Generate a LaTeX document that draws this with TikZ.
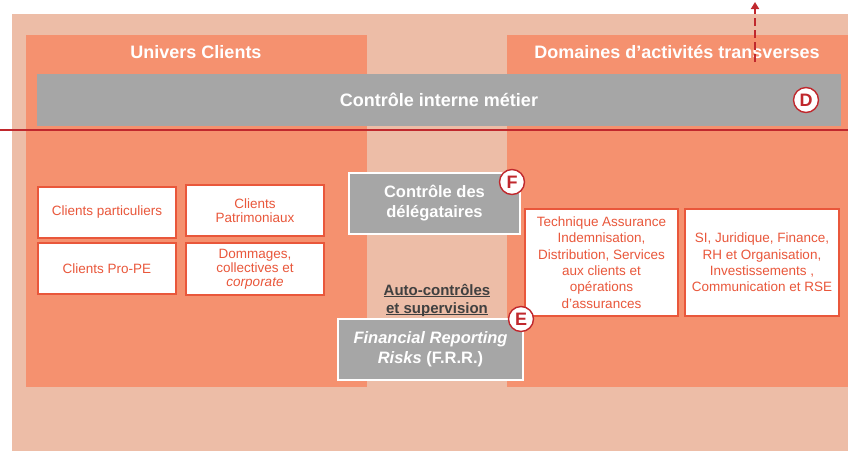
\documentclass[tikz,border=0pt]{standalone}
\usepackage{fontspec}
\setmainfont{Liberation Sans}
\usetikzlibrary{arrows.meta}
\definecolor{peach}{HTML}{EDBDA7}
\definecolor{orng}{HTML}{F5916F}
\definecolor{grayb}{HTML}{A6A6A6}
\definecolor{redc}{HTML}{C0282D}
\definecolor{txtr}{HTML}{E9573B}
\definecolor{dgray}{HTML}{404040}
\newcommand\myul[1]{\setbox0\hbox{#1}\rlap{\rule[-2pt]{\wd0}{1.1pt}}\box0}
\begin{document}
\begin{tikzpicture}[x=1pt,y=-1pt,
  wbox/.style={draw=txtr, line width=1.2pt, fill=white, text=txtr, align=center, inner sep=0pt, font=\fontsize{13.5}{14}\selectfont},
  tbox/.style={wbox, font=\fontsize{13.5}{16.4}\selectfont},
  gbox/.style={draw=white, line width=2pt, fill=grayb, text=white, align=center, inner sep=0pt, font=\bfseries\fontsize{16.5}{20}\selectfont},
  badge/.style={circle, draw=redc, line width=1.4pt, fill=white, text=redc, minimum size=25pt, inner sep=0pt, font=\bfseries\fontsize{18}{18}\selectfont},
  header/.style={text=white, font=\bfseries\fontsize{18}{18}\selectfont}
]
\useasboundingbox (0,0) rectangle (848,451);
\fill[peach] (12,14) rectangle (848,451);
\fill[orng] (26,35) rectangle (367,387);
\fill[orng] (507,35) rectangle (848,387);
\node[header] (huc) at (196,52) {Univers Clients};
\node[header] (hdt) at (677,52) {Domaines d’activités transverses};
\node[fill=grayb, minimum width=804pt, minimum height=52pt, inner sep=0pt, text=white, font=\bfseries\fontsize{18}{18}\selectfont] (cim) at (439,100) {Contrôle interne métier};
\node[badge] (bd) at (806,100) {D};
\coordinate (l0) at (0,130);
\coordinate (l1) at (848,130);
\draw[redc, line width=1.6pt] (l0) -- (l1);
\coordinate (a0) at (755,62);
\coordinate (a1) at (755,2);
\draw[redc, line width=2.2pt, dash pattern=on 8pt off 4pt, -{Triangle[length=7pt,width=8pt]}] (a0) -- (a1);
\node[wbox, minimum width=138pt, minimum height=51pt] (cp) at (107,212.5) {Clients particuliers};
\node[wbox, minimum width=138pt, minimum height=51pt] (pat) at (255,210.5) {Clients\\Patrimoniaux};
\node[wbox, minimum width=138pt, minimum height=51pt] (pro) at (107,268.5) {Clients Pro-PE};
\node[wbox, minimum width=138pt, minimum height=52pt] (dom) at (255,269) {Dommages,\\collectives et\\\textit{corporate}};
\node[gbox, minimum width=171pt, minimum height=61pt] (del) at (434.5,203.5) {Contrôle des\\délégataires};
\node[badge] (bf) at (512,182) {F};
\node[tbox, minimum width=153pt, minimum height=107pt] (tech) at (601.5,262.5) {Technique Assurance\\Indemnisation,\\Distribution, Services\\aux clients et\\opérations\\d’assurances};
\node[tbox, minimum width=154pt, minimum height=107pt] (si) at (762,262.5) {SI, Juridique, Finance,\\RH et Organisation,\\Investissements ,\\Communication et RSE};
\node[text=dgray, align=center, inner sep=0pt, font=\bfseries\fontsize{15}{18}\selectfont] (auto) at (437,300) {\myul{Auto-contrôles}\\\myul{et supervision}};
\node[gbox, minimum width=185pt, minimum height=61pt] (frr) at (430.5,349.5) {\textit{Financial Reporting}\\\textit{Risks} (F.R.R.)};
\node[badge] (be) at (521,319) {E};
\end{tikzpicture}
\end{document}
